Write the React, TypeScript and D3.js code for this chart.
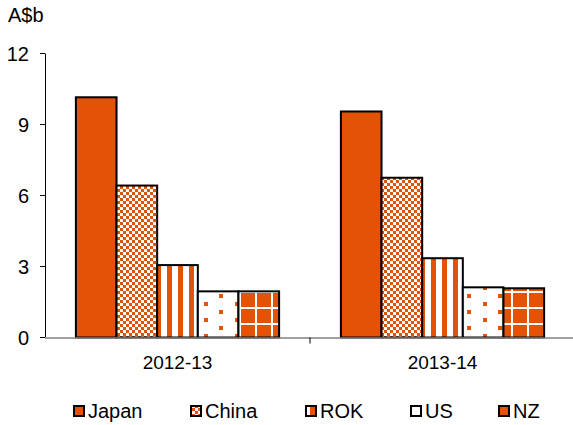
import React from "react";
import * as d3 from "d3";

const categories = ["2012-13", "2013-14"];
const seriesNames = ["Japan", "China", "ROK", "US", "NZ"];
const japan = [10.15, 9.55];
const china = [6.42, 6.75];
const rok = [3.06, 3.35];
const us = [1.95, 2.12];
const nz = [1.95, 2.08];
const yTicks = [0, 3, 6, 9, 12];

const seriesValues = [japan, china, rok, us, nz];
const ORANGE = "#E35205";
const fills = ["url(#pSolid)", "url(#pChina)", "url(#pROK)", "url(#pUS)", "url(#pNZ)"];

export default function App() {
  const W = 573, H = 425;
  const left = 45, right = 575, top = 53.5, bottom = 337.5;
  const x0 = d3.scaleBand<string>().domain(categories).range([left, right]).paddingInner(0).paddingOuter(0);
  const x1 = d3.scaleBand<string>().domain(seriesNames).range([0, x0.bandwidth()]).paddingInner(0).paddingOuter(0.76);
  const y = d3.scaleLinear().domain([0, 12]).range([bottom, top]);
  const font = "'Liberation Sans', Arial, sans-serif";

  const legendX = [73, 190, 305, 410, 498];

  return (
    <svg width={W} height={H} style={{ position: "absolute", left: 0, top: 0 }} fontFamily={font}>
      <defs>
        <pattern id="pSolid" patternUnits="userSpaceOnUse" width={4} height={4}>
          <rect width={4} height={4} fill={ORANGE} />
        </pattern>
        <pattern id="pChina" patternUnits="userSpaceOnUse" width={6} height={6}>
          <rect width={6} height={6} fill="#fff" />
          <rect x={0} y={0} width={3} height={3} fill={ORANGE} />
          <rect x={3} y={3} width={3} height={3} fill={ORANGE} />
        </pattern>
        <pattern id="pROK" patternUnits="userSpaceOnUse" width={11} height={10} x={2}>
          <rect width={11} height={10} fill="#fff" />
          <rect x={0} y={0} width={5} height={10} fill={ORANGE} />
        </pattern>
        <pattern id="pUS" patternUnits="userSpaceOnUse" width={31} height={16} x={2} y={6}>
          <rect width={31} height={16} fill="#fff" />
          <rect x={0} y={0} width={4} height={4} fill={ORANGE} />
          <rect x={16} y={8} width={4} height={4} fill={ORANGE} />
        </pattern>
        <pattern id="pNZ" patternUnits="userSpaceOnUse" width={16} height={16} x={1} y={5}>
          <rect width={16} height={16} fill={ORANGE} />
          <rect x={14} y={0} width={2} height={16} fill="#fff" />
          <rect x={0} y={14} width={16} height={2} fill="#fff" />
        </pattern>
      </defs>
      <rect width={W} height={H} fill="#fff" />

      <text x={8} y={22} fontSize={20} fill="#000">A$b</text>

      {yTicks.map((t) => (
        <g key={t}>
          <line x1={40} x2={left} y1={y(t)} y2={y(t)} stroke="#000" strokeWidth={1} />
          <text x={29} y={y(t)} dy="0.35em" textAnchor="end" fontSize={20} fill="#000">{t}</text>
        </g>
      ))}
      <line x1={left + 0.5} x2={left + 0.5} y1={top} y2={bottom} stroke="#000" strokeWidth={1} />

      {categories.map((c, ci) => (
        <g key={c}>
          {seriesNames.map((s, si) => {
            const v = seriesValues[si][ci];
            const bx = (x0(c) as number) + (x1(s) as number);
            return (
              <rect key={s} x={bx} y={y(v)} width={x1.bandwidth()} height={bottom - y(v)}
                fill={fills[si]} stroke="#000" strokeWidth={2} />
            );
          })}
          <text x={(x0(c) as number) + x0.bandwidth() / 2} y={362} dy="0.35em" textAnchor="middle" fontSize={19} fill="#000">{c}</text>
        </g>
      ))}
      <line x1={left} x2={W} y1={bottom + 0.5} y2={bottom + 0.5} stroke="#808080" strokeWidth={1.5} />
      {categories.slice(1).map((c) => (
        <line key={c} x1={x0(c) as number} x2={x0(c) as number} y1={bottom} y2={bottom + 6} stroke="#000" strokeWidth={1} />
      ))}

      {seriesNames.map((s, si) => (
        <g key={s}>
          <rect x={legendX[si] + 1} y={406} width={10} height={10} fill={fills[si]} stroke="#000" strokeWidth={2} />
          <text x={legendX[si] + 15} y={411} dy="0.35em" fontSize={20} fill="#000">{s}</text>
        </g>
      ))}
    </svg>
  );
}
